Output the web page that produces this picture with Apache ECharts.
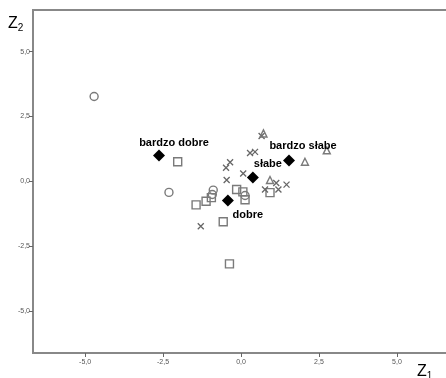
<!DOCTYPE html>
<html lang="pl">
<head>
<meta charset="UTF-8" />
<title>Z1 Z2</title>
<script src="https://cdn.jsdelivr.net/npm/echarts@6.0.0/dist/echarts.min.js"></script>
<style>
  html, body { margin: 0; padding: 0; background: #fff; }
  #chart { width: 446px; height: 378px; }
</style>
</head>
<body>
<div id="chart"></div>
<script>
  // observations per group (Z1, Z2)
  const circlePts = [[-4.71, 3.27], [-2.31, -0.42], [-0.89, -0.33], [-0.92, -0.5], [0.13, -0.54]];
  const squarePts = [[-2.03, 0.76], [-1.44, -0.9], [-1.12, -0.76], [-0.95, -0.62], [-0.14, -0.31],
    [0.06, -0.4], [0.13, -0.7], [-0.57, -1.55], [-0.37, -3.17], [0.93, -0.43]];
  const crossPts = [[0.07, 0.31], [-0.46, 0.06], [0.29, 1.1], [0.45, 1.14], [-0.48, 0.53], [-0.35, 0.74],
    [-1.29, -1.72], [0.66, 1.75], [0.77, -0.31], [1.13, -0.06], [1.2, -0.31], [1.46, -0.12]];
  const trianglePts = [[0.72, 1.85], [0.93, 0.06], [2.05, 0.76], [2.75, 1.2]];

  // group centroids
  const groupNames = ["bardzo dobre", "dobre", "słabe", "bardzo słabe"];
  const centroidX = [-2.63, -0.42, 0.38, 1.54];
  const centroidY = [1.0, -0.73, 0.15, 0.81];

  const tickValues = [-5, -2.5, 0, 2.5, 5];

  const labelOffsets = [[15, -13], [20, 14], [15, -14], [14, -14]];
  const gray = "#7a7a7a";
  const hollow = { color: "rgba(0,0,0,0)", borderColor: gray, borderWidth: 1.4, opacity: 1 };

  const chart = echarts.init(document.getElementById("chart"));

  const tickFmt = (v) => v.toFixed(1).replace(".", ",");

  const axisCommon = {
    type: "value",
    splitLine: { show: false },
    axisLine: { show: true, onZero: false, lineStyle: { color: "#888", width: 2 } },
    axisTick: { customValues: tickValues, length: 4, lineStyle: { color: "#666", width: 1 } },
    axisLabel: {
      customValues: tickValues,
      formatter: tickFmt,
      fontSize: 7,
      color: "#555",
      fontFamily: "Liberation Sans",
    },
  };

  const centroidData = groupNames.map((n, i) => ({
    name: n,
    value: [centroidX[i], centroidY[i]],
    label: { offset: labelOffsets[i] },
  }));

  chart.setOption({
    animation: false,
    grid: {
      left: 33, top: 10, width: 416, height: 343,
      show: true, borderColor: "#888", borderWidth: 2,
      outerBoundsMode: "none",
    },
    xAxis: Object.assign({}, axisCommon, {
      min: -6.67, max: 6.67,
      axisLabel: Object.assign({}, axisCommon.axisLabel, { margin: 6 }),
    }),
    yAxis: Object.assign({}, axisCommon, {
      min: -6.6, max: 6.6,
      axisLabel: Object.assign({}, axisCommon.axisLabel, { margin: 3 }),
    }),
    series: [
      { type: "scatter", symbol: "circle", symbolSize: 8, itemStyle: hollow, data: circlePts },
      { type: "scatter", symbol: "rect", symbolSize: 8, itemStyle: hollow, data: squarePts },
      { type: "scatter", symbol: "path://M0,0L10,10M10,0L0,10", symbolSize: 6,
        itemStyle: { color: "rgba(0,0,0,0)", borderColor: "#666", borderWidth: 1.3, opacity: 1 }, data: crossPts },
      { type: "scatter", symbol: "triangle", symbolSize: 7, itemStyle: hollow, data: trianglePts },
      {
        type: "scatter", symbol: "diamond", symbolSize: 12,
        itemStyle: { color: "#000", opacity: 1 },
        label: {
          show: true, position: "inside", formatter: "{b}",
          fontFamily: "Liberation Sans", fontWeight: "bold", fontSize: 11, color: "#000",
          textBorderWidth: 0,
        },
        data: centroidData,
        z: 5,
      },
    ],
    graphic: [
      {
        type: "text", left: 8, top: 16,
        style: {
          text: "{z|Z}{s|2}",
          rich: {
            z: { fontFamily: "Liberation Sans", fontSize: 16, fill: "#000" },
            s: { fontFamily: "Liberation Sans", fontSize: 10, fill: "#000", padding: [8, 0, 0, 0] },
          },
        },
      },
      {
        type: "text", left: 417, top: 364,
        style: {
          text: "{z|Z}{s|1}",
          rich: {
            z: { fontFamily: "Liberation Sans", fontSize: 16, fill: "#000" },
            s: { fontFamily: "Liberation Sans", fontSize: 10, fill: "#000", padding: [8, 0, 0, 0] },
          },
        },
      },
    ],
  });
</script>
</body>
</html>
